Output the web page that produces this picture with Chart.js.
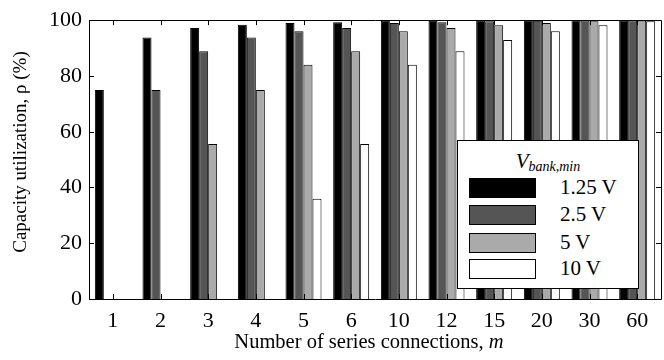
<!DOCTYPE html>
<html>
<head>
<meta charset="utf-8">
<script src="https://cdn.jsdelivr.net/npm/chart.js@4/dist/chart.umd.min.js"></script>
<style>
  html, body { margin: 0; padding: 0; background: #fff; }
  #wrap { position: relative; width: 664px; height: 360px; font-family: "Liberation Serif", "Times New Roman", serif; }
  canvas { position: absolute; left: 0; top: 0; }
  #legend { position: absolute; left: 457px; top: 140px; width: 182px; height: 149px; background: #fff; border: 1px solid #000; box-sizing: border-box; }
  #legend .title { position: absolute; left: 0; width: 100%; top: 8px; text-align: center; font-style: italic; font-size: 21px; line-height: 24px; }
  #legend .title sub { font-size: 14px; vertical-align: -3px; }
  #legend .row { position: absolute; left: 11px; height: 20px; }
  #legend .sw { position: absolute; left: 0; top: 0; width: 67px; height: 20px; box-sizing: border-box; border: 1px solid #000; }
  #legend .lab { position: absolute; left: 91px; top: -3px; font-size: 21px; line-height: 24px; white-space: nowrap; }
</style>
</head>
<body>
<div id="wrap">
  <canvas id="c" width="664" height="360"></canvas>
  <div id="legend"></div>
</div>
<script>
// ---- data ----
const categories = ["1", "2", "3", "4", "5", "6", "10", "12", "15", "20", "30", "60"];
const seriesNames = ["1.25 V", "2.5 V", "5 V", "10 V"];
const v125 = [75, 93.8, 97.2, 98.4, 99.0, 99.3, 99.8, 99.8, 100, 100, 100, 100];
const v25  = [0, 75, 88.9, 93.8, 96.0, 97.2, 99.0, 99.3, 99.6, 99.8, 99.9, 100];
const v5   = [0, 0, 55.6, 75, 84.0, 88.9, 96.0, 97.2, 98.2, 99.0, 99.6, 99.9];
const v10  = [0, 0, 0, 0, 36.0, 55.6, 84.0, 88.9, 92.9, 96.0, 98.2, 99.6];
const yTicks = [0, 20, 40, 60, 80, 100];
const colors = ["#000000", "#555555", "#aaaaaa", "#ffffff"];

const FONT = "'Liberation Serif', 'Times New Roman', serif";
const seriesData = [v125, v25, v5, v10];

const datasets = seriesData.map((d, i) => ({
  label: seriesNames[i],
  data: d,
  backgroundColor: colors[i],
  borderColor: "#000",
  borderWidth: 1,
  categoryPercentage: 0.755,
  barPercentage: 1.0
}));

// inward tick marks on all four sides + frame
const frameTicks = {
  id: "frameTicks",
  afterDraw(chart) {
    const ctx = chart.ctx;
    const a = chart.chartArea;
    const xs = chart.scales.x, ys = chart.scales.y;
    ctx.save();
    ctx.strokeStyle = "#000";
    ctx.lineWidth = 1;
    ctx.beginPath();
    ctx.rect(Math.round(a.left) + 0.5, Math.round(a.top) + 0.5, Math.round(a.right - a.left), Math.round(a.bottom - a.top));
    ctx.stroke();
    const L = 5;
    ctx.beginPath();
    categories.forEach((c, i) => {
      const px = Math.round(xs.getPixelForValue(i)) + 0.5;
      ctx.moveTo(px, a.bottom); ctx.lineTo(px, a.bottom - L);
      ctx.moveTo(px, a.top); ctx.lineTo(px, a.top + L);
    });
    yTicks.forEach(v => {
      const py = Math.round(ys.getPixelForValue(v)) + 0.5;
      ctx.moveTo(a.left, py); ctx.lineTo(a.left + L, py);
      ctx.moveTo(a.right, py); ctx.lineTo(a.right - L, py);
    });
    ctx.stroke();
    ctx.restore();
  }
};

// axis titles (x title has italic m)
const titles = {
  id: "titles",
  afterDraw(chart) {
    const ctx = chart.ctx;
    ctx.save();
    ctx.fillStyle = "#000";
    ctx.textBaseline = "alphabetic";
    const t1 = "Number of series connections, ";
    const t2 = "m";
    ctx.font = "20.5px " + FONT;
    const w1 = ctx.measureText(t1).width;
    ctx.font = "italic 20.5px " + FONT;
    const w2 = ctx.measureText(t2).width;
    const cx = 369;
    const x0 = cx - (w1 + w2) / 2;
    ctx.font = "20.5px " + FONT;
    ctx.fillText(t1, x0, 348);
    ctx.font = "italic 20.5px " + FONT;
    ctx.fillText(t2, x0 + w1, 348);

    ctx.translate(21, 152);
    ctx.rotate(-Math.PI / 2);
    ctx.font = "19px " + FONT;
    ctx.textAlign = "center";
    ctx.textBaseline = "middle";
    ctx.fillText("Capacity utilization, ρ (%)", 0, 0);
    ctx.restore();
  }
};

new Chart(document.getElementById("c"), {
  type: "bar",
  data: { labels: categories, datasets },
  options: {
    responsive: false,
    animation: false,
    devicePixelRatio: 1,
    layout: { padding: { top: 17, right: 3, left: 0, bottom: 0 } },
    plugins: { legend: { display: false }, tooltip: { enabled: false } },
    scales: {
      x: {
        grid: { display: false, drawTicks: false },
        border: { display: false },
        ticks: { color: "#000", font: { family: FONT, size: 22 }, padding: 9, maxRotation: 0 },
        afterFit(s) { s.height = 61; }
      },
      y: {
        min: 0, max: 100,
        afterBuildTicks(s) { s.ticks = yTicks.map(v => ({ value: v })); },
        grid: { display: false, drawTicks: false },
        border: { display: false },
        ticks: { color: "#000", font: { family: FONT, size: 22 }, padding: 7 },
        afterFit(s) { s.width = 89; }
      }
    }
  },
  plugins: [frameTicks, titles]
});

// HTML legend built from the series arrays
const leg = document.getElementById("legend");
leg.innerHTML = '<div class="title">V<sub>bank,min</sub></div>';
const rowTops = [37, 64, 92, 118];
seriesNames.forEach((n, i) => {
  const r = document.createElement("div");
  r.className = "row";
  r.style.top = rowTops[i] + "px";
  r.innerHTML = '<div class="sw" style="background:' + colors[i] + '"></div><div class="lab">' + n + '</div>';
  leg.appendChild(r);
});
</script>
</body>
</html>
